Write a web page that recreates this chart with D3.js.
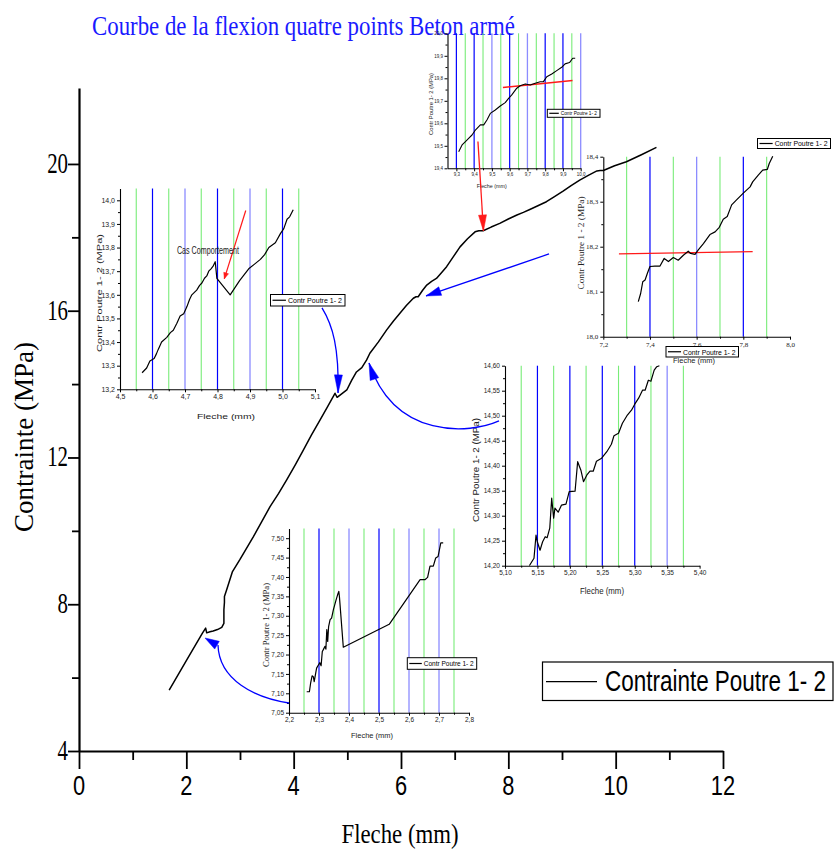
<!DOCTYPE html>
<html>
<head>
<meta charset="utf-8">
<script src="https://cdn.jsdelivr.net/npm/d3@7"></script>
<style>
  body { margin: 0; background: #fff; }
  svg { display: block; }
</style>
</head>
<body>
<script>
// ---------- main curve: Fleche (mm) vs Contrainte (MPa) ----------
const mainCurve = [
  [1.68,5.66],[2.00,6.46],[2.30,7.21],[2.36,7.35],[2.38,7.22],[2.44,7.25],[2.50,7.27],
  [2.58,7.31],[2.66,7.37],[2.70,7.48],[2.70,7.85],[2.71,8.05],[2.71,8.21],[2.75,8.39],
  [2.86,8.89],[3.00,9.22],[3.25,9.84],[3.40,10.24],[3.56,10.66],[3.72,11.02],[3.87,11.39],
  [4.03,11.80],[4.18,12.20],[4.33,12.61],[4.49,13.02],[4.63,13.38],[4.77,13.75],[4.81,13.64],
  [4.90,13.74],[4.99,13.84],[5.08,14.10],[5.17,14.33],[5.27,14.45],[5.36,14.66],[5.42,14.84],
  [5.58,15.15],[5.73,15.47],[5.86,15.72],[5.98,15.93],[6.10,16.14],[6.23,16.34],[6.28,16.38],
  [6.32,16.38],[6.40,16.55],[6.48,16.70],[6.57,16.80],[6.66,16.88],[6.75,17.03],[6.85,17.20],
  [6.97,17.46],[7.10,17.74],[7.24,17.96],[7.38,18.15],[7.45,18.18],[7.53,18.18],[7.68,18.28],
  [7.84,18.38],[8.00,18.50],[8.16,18.61],[8.28,18.68],[8.40,18.76],[8.55,18.86],[8.71,18.97],
  [8.86,19.11],[9.02,19.26],[9.17,19.41],[9.33,19.56],[9.49,19.69],[9.65,19.81],[9.71,19.82],
  [9.77,19.82],[9.98,19.95],[10.20,20.06],[10.48,20.25],[10.76,20.45]
];
const xTicksMain = [0, 2, 4, 6, 8, 10, 12];
const xMinorMain = [1, 3, 5, 7, 9, 11];
const yTicksMain = [4, 8, 12, 16, 20];
const yMinorMain = [6, 10, 14, 18];

// ---------- detail views ----------
const inset1Curve = [
  [4.568,13.27],[4.582,13.29],[4.592,13.32],[4.605,13.33],[4.612,13.35],[4.618,13.37],[4.628,13.40],
  [4.644,13.42],[4.655,13.44],[4.664,13.45],[4.675,13.48],[4.685,13.51],[4.696,13.52],[4.706,13.55],
  [4.714,13.58],[4.721,13.60],[4.736,13.62],[4.745,13.64],[4.752,13.65],[4.760,13.67],[4.767,13.68],
  [4.773,13.70],[4.780,13.71],[4.786,13.72],[4.793,13.74],[4.798,13.67],[4.839,13.60],[4.868,13.66],
  [4.896,13.71],[4.914,13.73],[4.932,13.75],[4.945,13.77],[4.958,13.80],[4.978,13.82],[4.994,13.86],
  [5.004,13.88],[5.014,13.92],[5.022,13.93],[5.033,13.96]
];
const inset1XTicks = [4.5, 4.6, 4.7, 4.8, 4.9, 5.0, 5.1];
const inset1YTicks = [13.2, 13.3, 13.4, 13.5, 13.6, 13.7, 13.8, 13.9, 14.0];
const inset1Green = [4.55, 4.65, 4.75, 4.85, 4.95, 5.05];
const inset1Blue = [4.6, 4.8, 5.0];
const inset1BlueLight = [4.7, 4.9];
const inset1Arrow = [[4.887, 13.957], [4.821, 13.668]];
const inset1Note = [4.675, 13.774];

const inset2Curve = [
  [9.313,19.474],[9.332,19.504],[9.351,19.519],[9.369,19.533],[9.388,19.548],[9.407,19.570],
  [9.435,19.593],[9.454,19.593],[9.472,19.615],[9.491,19.644],[9.519,19.659],[9.547,19.677],
  [9.575,19.692],[9.594,19.711],[9.612,19.726],[9.640,19.756],[9.659,19.767],[9.688,19.775],
  [9.716,19.770],[9.744,19.778],[9.772,19.785],[9.790,19.785],[9.809,19.807],[9.837,19.819],
  [9.865,19.834],[9.893,19.849],[9.912,19.864],[9.937,19.870],[9.955,19.889],[9.969,19.889]
];
const inset2XTicks = [9.3, 9.4, 9.5, 9.6, 9.7, 9.8, 9.9, 10.0];
const inset2YTicks = [19.4, 19.5, 19.6, 19.7, 19.8, 19.9, 20.0];
const inset2Green = [9.35, 9.45, 9.55, 9.65, 9.75, 9.85, 9.95];
const inset2Blue = [9.3, 9.4, 9.6, 9.8, 9.9];
const inset2BlueLight = [9.5, 9.7, 10.0];
const inset2RedLine = [[9.562, 19.759], [9.954, 19.790]];

const inset3Curve = [
  [7.350,18.078],[7.360,18.096],[7.369,18.122],[7.379,18.126],[7.389,18.141],[7.400,18.156],
  [7.421,18.157],[7.443,18.157],[7.461,18.174],[7.479,18.167],[7.500,18.176],[7.521,18.170],
  [7.543,18.181],[7.564,18.190],[7.574,18.185],[7.593,18.183],[7.607,18.193],[7.629,18.207],
  [7.657,18.227],[7.679,18.233],[7.697,18.243],[7.714,18.261],[7.731,18.267],[7.750,18.293],
  [7.771,18.304],[7.800,18.319],[7.829,18.333],[7.840,18.344],[7.864,18.359],[7.883,18.370],
  [7.903,18.372],[7.911,18.385],[7.926,18.401]
];
const inset3XTicks = [7.2, 7.4, 7.6, 7.8, 8.0];
const inset3YTicks = [18.0, 18.1, 18.2, 18.3, 18.4];
const inset3Green = [7.3, 7.5, 7.7, 7.9];
const inset3Blue = [7.4, 7.8];
const inset3BlueLight = [7.6];
const inset3RedLine = [[7.267, 18.184], [7.840, 18.189]];

const inset4Curve = [
  [5.1375,14.200],[5.1447,14.215],[5.1478,14.261],[5.1498,14.248],[5.154,14.231],[5.158,14.248],
  [5.162,14.258],[5.165,14.256],[5.169,14.275],[5.172,14.335],[5.175,14.295],[5.177,14.315],
  [5.182,14.307],[5.187,14.321],[5.194,14.323],[5.199,14.348],[5.208,14.349],[5.212,14.408],
  [5.217,14.391],[5.221,14.368],[5.226,14.381],[5.231,14.389],[5.236,14.389],[5.241,14.409],
  [5.249,14.415],[5.257,14.428],[5.264,14.443],[5.268,14.460],[5.275,14.465],[5.281,14.485],
  [5.288,14.500],[5.295,14.511],[5.300,14.523],[5.306,14.535],[5.312,14.551],[5.316,14.551],
  [5.321,14.571],[5.325,14.569],[5.330,14.591],[5.334,14.598],[5.338,14.600]
];
const inset4XTicks = [5.10, 5.15, 5.20, 5.25, 5.30, 5.35, 5.40];
const inset4YTicks = [14.20, 14.25, 14.30, 14.35, 14.40, 14.45, 14.50, 14.55, 14.60];
const inset4Green = [5.125, 5.175, 5.225, 5.275, 5.325, 5.375];
const inset4Blue = [5.15, 5.20, 5.25, 5.30];
const inset4BlueLight = [5.35];

const inset5Curve = [
  [2.259,7.104],[2.268,7.104],[2.272,7.126],[2.277,7.145],[2.281,7.143],[2.284,7.130],[2.289,7.152],
  [2.292,7.165],[2.298,7.173],[2.303,7.179],[2.307,7.171],[2.311,7.208],[2.314,7.212],[2.320,7.221],
  [2.323,7.214],[2.326,7.264],[2.329,7.234],[2.332,7.272],[2.337,7.290],[2.342,7.294],[2.348,7.316],
  [2.357,7.341],[2.362,7.354],[2.366,7.363],[2.368,7.350],[2.381,7.219],[2.534,7.278],[2.637,7.393],
  [2.653,7.393],[2.662,7.399],[2.670,7.428],[2.681,7.428],[2.689,7.449],[2.697,7.453],[2.706,7.488],
  [2.714,7.488]
];
const inset5XTicks = [2.2, 2.3, 2.4, 2.5, 2.6, 2.7, 2.8];
const inset5YTicks = [7.05, 7.10, 7.15, 7.20, 7.25, 7.30, 7.35, 7.40, 7.45, 7.50];
const inset5Green = [2.25, 2.35, 2.45, 2.55, 2.65, 2.75];
const inset5Blue = [2.3, 2.5];
const inset5BlueLight = [2.4, 2.6, 2.7];

// ---------- pointers joining the detail views to the main curve (main units) ----------
const arrowNotch48 = [[4.528,16.075],[4.733,15.584],[4.845,14.985],[4.827,13.759]];
const arrowZone54 = [[7.826,12.995],[7.285,12.640],[5.888,12.477],[5.404,14.576]];
const arrowPlateau75 = [[8.758,17.547],[6.466,16.402]];
const arrowNotch24 = [[3.913,5.308],[3.279,5.445],[2.609,5.935],[2.590,6.889]];
const arrowNotch24Head = [2.348, 7.08];
const arrowRed75 = [[7.434,20.613],[7.537,18.173]];

const W = 839, H = 852;
const SANS = "'Liberation Sans', Arial, sans-serif";
const SERIF = "'Liberation Serif', 'Times New Roman', serif";
const BLUE = "#0000ff", BLUE_LIGHT = "#8c8cff", GREEN = "#78ec78", RED = "#ff1a1a";

const svg = d3.select("body").append("svg")
  .attr("width", W).attr("height", H)
  .style("font-family", SANS);

const x = d3.scaleLinear().domain([0, 12]).range([79, 723]);
const y = d3.scaleLinear().domain([4, 22.07]).range([751, 88]);
const comma = f => v => d3.format(f)(v).replace(".", ",");

// filled triangular head at (tx,ty) pointing away from (fx,fy)
function head(g, tx, ty, fx, fy, len, wid, color) {
  const a = Math.atan2(ty - fy, tx - fx);
  const bx = tx - len * Math.cos(a), by = ty - len * Math.sin(a);
  const px = -Math.sin(a) * wid / 2, py = Math.cos(a) * wid / 2;
  g.append("path")
    .attr("d", `M${tx},${ty}L${bx + px},${by + py}L${bx - px},${by - py}Z`)
    .attr("fill", color).attr("stroke", color).attr("stroke-width", 0.5);
}

// ---------- title ----------
svg.append("text")
  .attr("x", 92).attr("y", 35)
  .attr("font-family", SERIF).attr("font-size", 27)
  .attr("textLength", 423).attr("lengthAdjust", "spacingAndGlyphs")
  .attr("fill", "#1a1aff")
  .text("Courbe de la flexion quatre points Beton armé");

// ---------- detail view builder ----------
function drawInset(o) {
  const sx = d3.scaleLinear().domain(o.xDom).range([o.left, o.right]);
  const sy = d3.scaleLinear().domain(o.yDom).range([o.bottom, o.top]);
  const g = svg.append("g");
  const id = "clip" + o.name;
  svg.append("clipPath").attr("id", id).append("rect")
    .attr("x", o.left).attr("y", o.top - 1)
    .attr("width", o.right - o.left).attr("height", o.bottom - o.top + 1);

  const vline = (vals, color, w) => g.selectAll(null).data(vals).enter().append("line")
    .attr("x1", d => sx(d)).attr("x2", d => sx(d))
    .attr("y1", o.top).attr("y2", o.bottom)
    .attr("stroke", color).attr("stroke-width", w);
  vline(o.green, GREEN, 1.1);
  vline(o.blueLight, BLUE_LIGHT, 1.3);
  vline(o.blue, BLUE, 1.2);

  const tickFont = o.tickFont || SANS;
  const ax = g.append("g").attr("transform", `translate(0,${o.bottom})`)
    .call(d3.axisBottom(sx).tickValues(o.xTicks).tickSize(3).tickSizeOuter(0)
      .tickPadding(o.pad || 2).tickFormat(o.fx));
  const ay = g.append("g").attr("transform", `translate(${o.left},0)`)
    .call(d3.axisLeft(sy).tickValues(o.yTicks).tickSize(3).tickSizeOuter(0)
      .tickPadding(o.pad || 2).tickFormat(o.fy));
  [ax, ay].forEach(a => {
    a.select(".domain").attr("stroke", "#000").attr("stroke-width", 1.1);
    a.selectAll(".tick line").attr("stroke", "#000");
    a.selectAll("text").attr("font-size", o.tickSize).attr("font-family", tickFont).attr("fill", "#222");
  });
  // minor ticks halfway between labelled ticks
  const mids = t => t.slice(1).map((v, i) => (v + t[i]) / 2);
  g.append("g").attr("transform", `translate(0,${o.bottom})`)
    .call(d3.axisBottom(sx).tickValues(mids(o.xTicks)).tickSize(2).tickSizeOuter(0).tickFormat(""))
    .call(a => a.select(".domain").remove());
  g.append("g").attr("transform", `translate(${o.left},0)`)
    .call(d3.axisLeft(sy).tickValues(mids(o.yTicks)).tickSize(2).tickSizeOuter(0).tickFormat(""))
    .call(a => a.select(".domain").remove());

  if (o.red) {
    g.append("line")
      .attr("x1", sx(o.red[0][0])).attr("y1", sy(o.red[0][1]))
      .attr("x2", sx(o.red[1][0])).attr("y2", sy(o.red[1][1]))
      .attr("stroke", RED).attr("stroke-width", 1.4);
  }

  g.append("path")
    .datum(o.curve)
    .attr("clip-path", `url(#${id})`)
    .attr("d", d3.line().x(d => sx(d[0])).y(d => sy(d[1])))
    .attr("fill", "none").attr("stroke", "#000").attr("stroke-width", o.lw || 1.2)
    .attr("stroke-linejoin", "round");

  // axis titles
  g.append("text")
    .attr("x", o.xTitle[0]).attr("y", o.xTitle[1])
    .attr("text-anchor", "middle").attr("font-size", o.titleSize)
    .attr("font-family", SANS).attr("fill", "#222")
    .attr("textLength", o.xTitleLen).attr("lengthAdjust", "spacingAndGlyphs")
    .text("Fleche (mm)");
  g.append("text")
    .attr("transform", `translate(${o.yTitle[0]},${o.yTitle[1]}) rotate(-90)`)
    .attr("text-anchor", "middle").attr("font-size", o.titleSize)
    .attr("font-family", o.yTitleFont || SANS).attr("fill", "#222")
    .attr("textLength", o.yTitleLen).attr("lengthAdjust", "spacingAndGlyphs")
    .text(o.yTitleText || "Contr Poutre 1- 2 (MPa)");
  return { g, sx, sy };
}

// small boxed key used in the detail views
function miniLegend(bx, by, bw, bh, size, label) {
  const g = svg.append("g");
  g.append("rect").attr("x", bx).attr("y", by).attr("width", bw).attr("height", bh)
    .attr("fill", "#fff").attr("stroke", "#000").attr("stroke-width", 1);
  const lineLen = bw * 0.18;
  g.append("line").attr("x1", bx + 2).attr("x2", bx + 2 + lineLen)
    .attr("y1", by + bh / 2).attr("y2", by + bh / 2)
    .attr("stroke", "#000").attr("stroke-width", 1.2);
  g.append("text").attr("x", bx + 4 + lineLen).attr("y", by + bh / 2 + size * 0.36)
    .attr("font-size", size).attr("fill", "#000")
    .attr("textLength", bw - lineLen - 7).attr("lengthAdjust", "spacingAndGlyphs")
    .text(label);
}

// ---------- detail view around 4.8 mm ----------
const i1 = drawInset({
  name: "a", left: 120, right: 315, top: 188.5, bottom: 389.3,
  xDom: [4.5, 5.1], yDom: [13.2, 14.05],
  xTicks: inset1XTicks, yTicks: inset1YTicks, fx: comma(".1f"), fy: comma(".1f"),
  green: inset1Green, blue: inset1Blue, blueLight: inset1BlueLight,
  curve: inset1Curve, tickSize: 7,
  xTitle: [226, 419], xTitleLen: 58, yTitle: [102, 293], yTitleLen: 118, titleSize: 8
});
i1.g.append("line")
  .attr("x1", i1.sx(inset1Arrow[0][0])).attr("y1", i1.sy(inset1Arrow[0][1]))
  .attr("x2", i1.sx(inset1Arrow[1][0])).attr("y2", i1.sy(inset1Arrow[1][1]))
  .attr("stroke", RED).attr("stroke-width", 1.2);
head(i1.g, i1.sx(inset1Arrow[1][0]), i1.sy(inset1Arrow[1][1]),
  i1.sx(inset1Arrow[0][0]), i1.sy(inset1Arrow[0][1]), 6, 5, RED);
i1.g.append("text")
  .attr("x", i1.sx(inset1Note[0])).attr("y", i1.sy(inset1Note[1]))
  .attr("font-size", 10).attr("fill", "#222")
  .attr("textLength", 62).attr("lengthAdjust", "spacingAndGlyphs")
  .text("Cas Comportement");
miniLegend(270.5, 294.5, 74.5, 11.5, 8, "Contr Poutre 1- 2");

// ---------- detail view around 9.6 mm ----------
drawInset({
  name: "b", left: 447.5, right: 580.7, top: 33.3, bottom: 168.3,
  xDom: [9.25, 10.0], yDom: [19.4, 20.0],
  xTicks: inset2XTicks, yTicks: inset2YTicks, fx: comma(".1f"), fy: comma(".1f"),
  green: inset2Green, blue: inset2Blue, blueLight: inset2BlueLight,
  curve: inset2Curve, red: inset2RedLine, tickSize: 4.5, pad: 1.5, lw: 1.1,
  xTitle: [491.7, 188], xTitleLen: 30, yTitle: [433, 104], yTitleLen: 62, titleSize: 5.5
});
miniLegend(547.3, 109.3, 52.7, 8, 5.5, "Contr Poutre 1- 2");

// ---------- detail view around 7.6 mm ----------
drawInset({
  name: "c", left: 603.3, right: 790, top: 156.7, bottom: 336.7,
  xDom: [7.2, 8.0], yDom: [18.0, 18.4],
  xTicks: inset3XTicks, yTicks: inset3YTicks, fx: comma(".1f"), fy: comma(".1f"),
  green: inset3Green, blue: inset3Blue, blueLight: inset3BlueLight,
  curve: inset3Curve, red: inset3RedLine, tickSize: 7, tickFont: SERIF,
  xTitle: [694, 363], xTitleLen: 42, yTitle: [584, 243], yTitleLen: 93, titleSize: 8,
  yTitleFont: SERIF, yTitleText: "Contr Poutre 1 - 2 (MPa)"
});
miniLegend(757.5, 138.5, 73, 10, 8, "Contr Poutre 1- 2");
miniLegend(666, 346.5, 72.5, 10.5, 8, "Contr Poutre 1- 2");

// ---------- detail view around 5.2 mm ----------
drawInset({
  name: "d", left: 505, right: 699.6, top: 365.7, bottom: 565.7,
  xDom: [5.10, 5.40], yDom: [14.2, 14.6],
  xTicks: inset4XTicks, yTicks: inset4YTicks, fx: comma(".2f"), fy: comma(".2f"),
  green: inset4Green, blue: inset4Blue, blueLight: inset4BlueLight,
  curve: inset4Curve, tickSize: 6.5,
  xTitle: [602, 594], xTitleLen: 44, yTitle: [479, 470], yTitleLen: 104, titleSize: 8.5
});

// ---------- detail view around 2.4 mm ----------
drawInset({
  name: "e", left: 289, right: 469, top: 528.5, bottom: 712.7,
  xDom: [2.2, 2.8], yDom: [7.05, 7.525],
  xTicks: inset5XTicks, yTicks: inset5YTicks, fx: comma(".1f"), fy: comma(".2f"),
  green: inset5Green, blue: inset5Blue, blueLight: inset5BlueLight,
  curve: inset5Curve, tickSize: 6.5,
  xTitle: [372, 738], xTitleLen: 42, yTitle: [269, 625], yTitleLen: 84, titleSize: 8,
  yTitleFont: SERIF
});
miniLegend(407.3, 657.7, 69.4, 11.6, 8, "Contr Poutre 1- 2");

// ---------- main axes ----------
const gx = svg.append("g").attr("transform", "translate(0,751)");
gx.call(d3.axisBottom(x).tickValues(xTicksMain).tickSize(18).tickSizeOuter(0).tickFormat(""));
gx.append("g").call(d3.axisBottom(x).tickValues(xMinorMain).tickSize(9).tickSizeOuter(0).tickFormat(""))
  .call(a => a.select(".domain").remove());
gx.selectAll(".domain").attr("stroke", "#000").attr("stroke-width", 2.2);
gx.selectAll(".tick line").attr("stroke", "#000").attr("stroke-width", 1.8);
svg.selectAll(null).data(xTicksMain).enter().append("text")
  .attr("transform", d => `translate(${x(d)},795) scale(0.78,1)`)
  .attr("text-anchor", "middle").attr("font-size", 28).attr("fill", "#000")
  .text(d => d);

const gy = svg.append("g").attr("transform", "translate(79,0)");
gy.call(d3.axisLeft(y).tickValues(yTicksMain).tickSize(11).tickSizeOuter(0).tickFormat(""));
gy.append("g").call(d3.axisLeft(y).tickValues(yMinorMain).tickSize(7).tickSizeOuter(0).tickFormat(""))
  .call(a => a.select(".domain").remove());
gy.selectAll(".domain").attr("stroke", "#000").attr("stroke-width", 2.2);
gy.selectAll(".tick line").attr("stroke", "#000").attr("stroke-width", 1.8);
svg.selectAll(null).data(yTicksMain).enter().append("text")
  .attr("transform", d => `translate(68,${y(d) + 9}) scale(0.72,1)`)
  .attr("text-anchor", "end").attr("font-family", SERIF).attr("font-size", 29).attr("fill", "#000")
  .text(d => d);

svg.append("text")
  .attr("x", 400).attr("y", 843)
  .attr("text-anchor", "middle").attr("font-family", SERIF).attr("font-size", 27)
  .attr("textLength", 117).attr("lengthAdjust", "spacingAndGlyphs")
  .text("Fleche (mm)");
svg.append("text")
  .attr("transform", "translate(33,437) rotate(-90)")
  .attr("text-anchor", "middle").attr("font-family", SERIF).attr("font-size", 27)
  .attr("textLength", 190).attr("lengthAdjust", "spacingAndGlyphs")
  .text("Contrainte (MPa)");

// ---------- main curve ----------
svg.append("path")
  .datum(mainCurve)
  .attr("d", d3.line().x(d => x(d[0])).y(d => y(d[1])))
  .attr("fill", "none").attr("stroke", "#000").attr("stroke-width", 1.5)
  .attr("stroke-linejoin", "round");

// ---------- pointers ----------
const pg = svg.append("g");
const P = d => [x(d[0]), y(d[1])];
function curvePointer(pts, color, len, wid) {
  const p = pts.map(P);
  const d = p.length === 4
    ? `M${p[0]}C${p[1]} ${p[2]} ${p[3]}`
    : `M${p[0]}L${p[1]}`;
  pg.append("path").attr("d", d).attr("fill", "none")
    .attr("stroke", color).attr("stroke-width", 1.3);
  const tip = p[p.length - 1], from = p[p.length - 2];
  if (len) head(pg, tip[0], tip[1], from[0], from[1], len, wid, color);
}
curvePointer(arrowNotch48, BLUE, 18, 8);
curvePointer(arrowZone54, BLUE, 17, 9);
curvePointer(arrowPlateau75, BLUE, 15, 9);
curvePointer(arrowNotch24, BLUE, 0, 0);
{
  const end = P(arrowNotch24[3]), tip = P(arrowNotch24Head);
  head(pg, tip[0], tip[1], end[0] + 2, end[1] + 2, 14, 9, BLUE);
}
curvePointer(arrowRed75, RED, 16, 8);

// ---------- main key ----------
const lg = svg.append("g");
lg.append("rect").attr("x", 542.5).attr("y", 662).attr("width", 290.5).attr("height", 38.5)
  .attr("fill", "#fff").attr("stroke", "#000").attr("stroke-width", 1.2);
lg.append("line").attr("x1", 546).attr("x2", 597).attr("y1", 681.7).attr("y2", 681.7)
  .attr("stroke", "#000").attr("stroke-width", 1.3);
lg.append("text").attr("x", 605).attr("y", 690.5)
  .attr("font-size", 30).attr("fill", "#000")
  .attr("textLength", 221).attr("lengthAdjust", "spacingAndGlyphs")
  .text("Contrainte Poutre 1- 2");
</script>
</body>
</html>
